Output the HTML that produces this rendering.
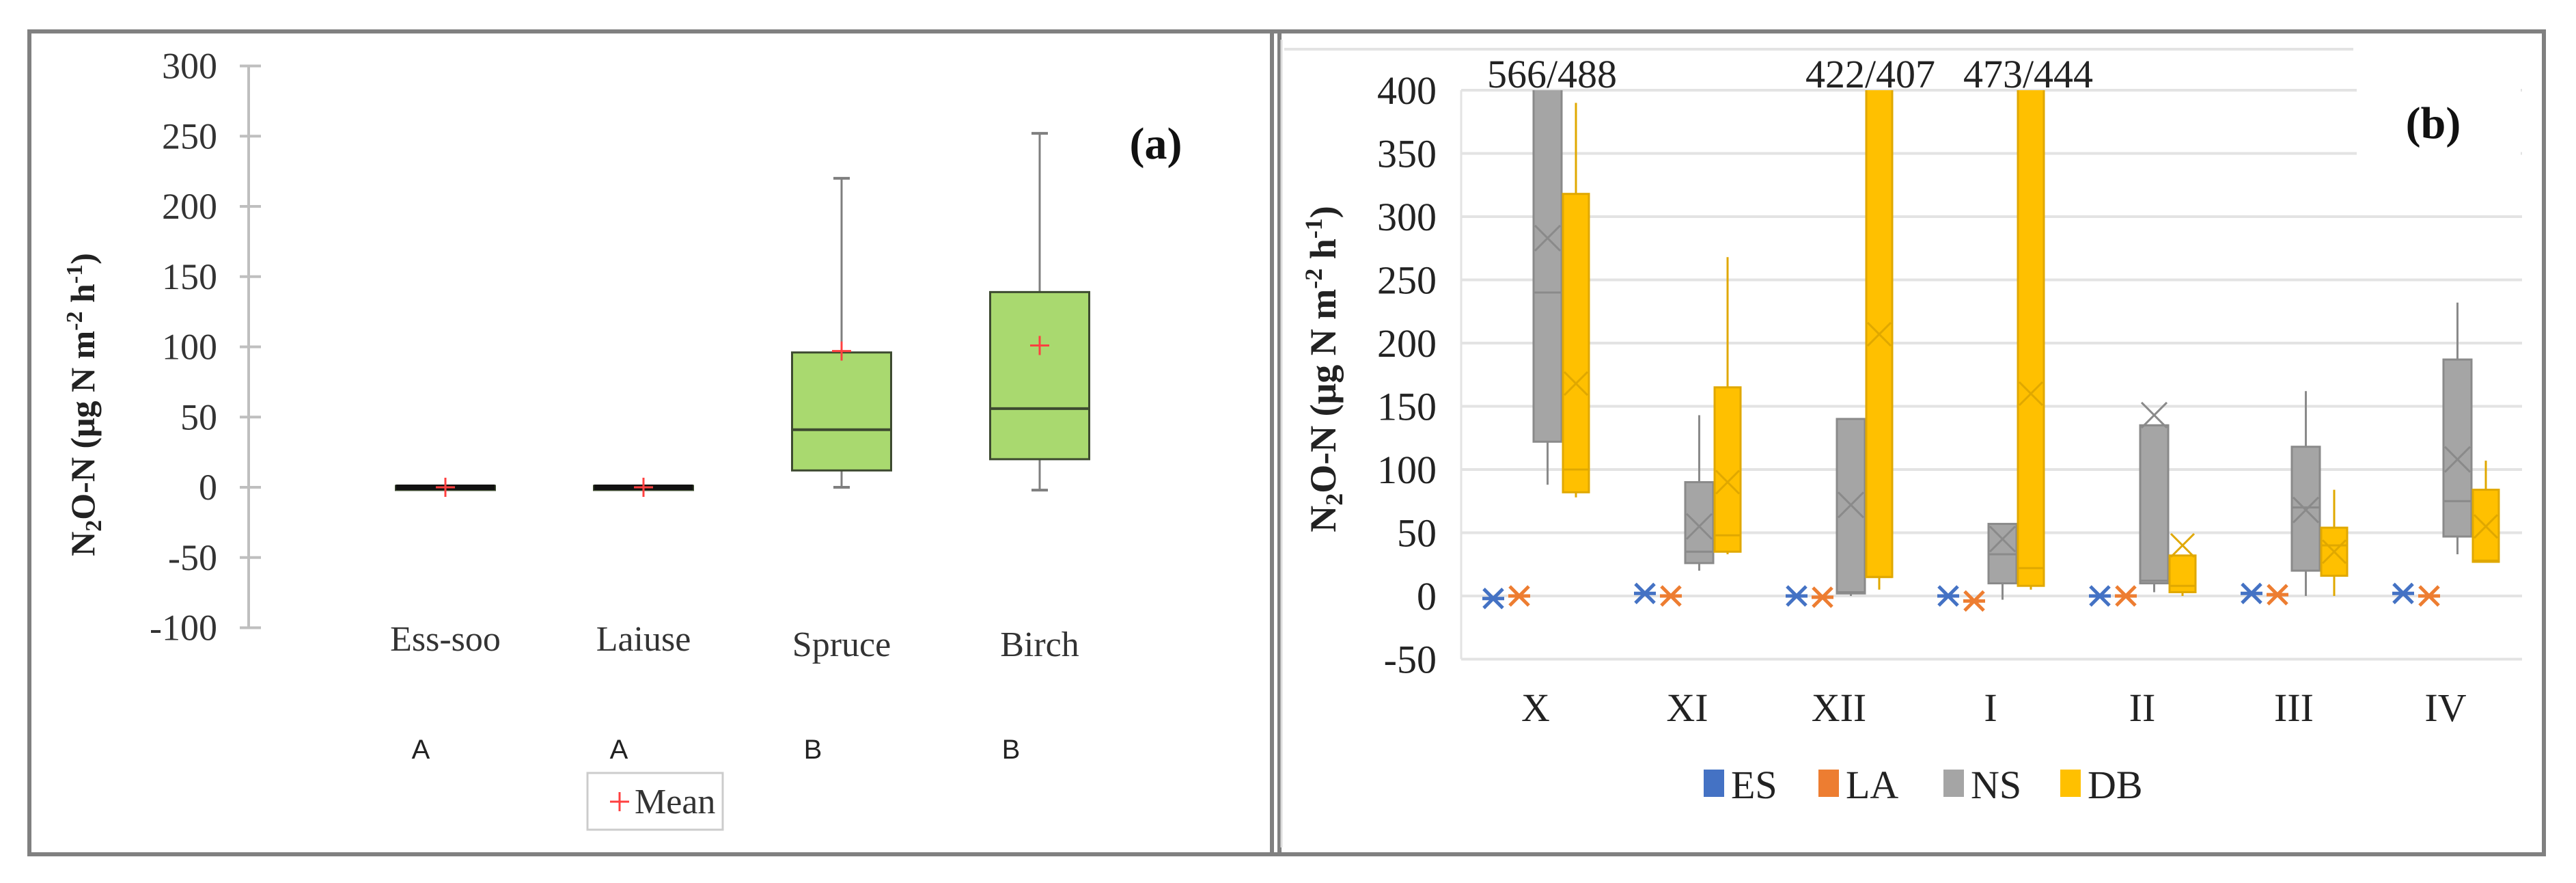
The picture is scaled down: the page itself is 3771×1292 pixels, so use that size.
<!DOCTYPE html>
<html><head><meta charset="utf-8"><style>
html,body{margin:0;padding:0;background:#fff;}
svg{display:block;font-family:"Liberation Serif",serif;}
</style></head><body>
<svg id="fig" width="3771" height="1292" viewBox="0 0 3771 1292" xmlns="http://www.w3.org/2000/svg">
<rect x="0" y="0" width="3771" height="1292" fill="#fff"/>
<rect x="43" y="46" width="1830" height="1204" fill="none" stroke="#808080" stroke-width="6"/>
<rect x="1862" y="46" width="1862" height="1204" fill="none" stroke="#808080" stroke-width="6"/>
<line x1="1876" y1="58" x2="1876" y2="1240" stroke="#ddd" stroke-width="3"/>
<g id="pa"></g>
<g id="pb"></g>
</svg>
<script>
// ---------- Panel (a) data ----------
const aCats = ["Ess-soo","Laiuse","Spruce","Birch"];
const aLetters = ["A","A","B","B"];
const aMin = [0,0,0,-2];
const aQ1 = [-1,-1,12,20];
const aMed = [0,0,41,56];
const aQ3 = [1,1,96,139];
const aMax = [0,0,220,252];
const aMean = [0,0,97,101];
const aTicks = [300,250,200,150,100,50,0,-50,-100];

// ---------- Panel (b) data ----------
const bCats = ["X","XI","XII","I","II","III","IV"];
const bTicks = [400,350,300,250,200,150,100,50,0,-50];
const esMean = [-2,2,0,0,0,2,2];
const laMean = [0,0,-1,-4,0,1,0];
const nsMin = [88,20,0,-3,3,0,33];
const nsQ1 = [122,26,2,10,10,20,47];
const nsMed = [240,35,3,33,12,70,75];
const nsQ3 = [566,90,140,57,135,118,187];
const nsMax = [566,143,140,57,135,162,232];
const nsMean = [283,55,72,45,143,68,108];
const dbMin = [78,33,5,5,0,0,27];
const dbQ1 = [82,35,15,8,3,16,27];
const dbMed = [100,48,15,22,8,40,28];
const dbQ3 = [318,165,422,473,32,54,84];
const dbMax = [390,268,422,473,32,84,107];
const dbMean = [168,90,207,160,40,35,55];
const topLabels = ["566/488","","422/407","473/444","","",""];
const legendNames = ["ES","LA","NS","DB"];

const NS="http://www.w3.org/2000/svg";
function mk(parent,tag,attrs,text){const e=document.createElementNS(NS,tag);for(const k in attrs)e.setAttribute(k,attrs[k]);if(text!==undefined)e.textContent=text;parent.appendChild(e);return e;}

// ---------- Panel (a) ----------
const pa=document.getElementById('pa');
const ya=v=>713-2.055*v;
const xa=i=>652+i*290;
mk(pa,'line',{x1:364,y1:ya(300),x2:364,y2:ya(-100),stroke:'#bfbfbf','stroke-width':4});
aTicks.forEach(t=>{
  const tk=mk(pa,'line',{x1:351,y1:ya(t),x2:382,y2:ya(t),stroke:'#bfbfbf','stroke-width':4});
  
  
  const lb=mk(pa,'text',{x:318,y:ya(t)+18,'text-anchor':'end','font-size':54,fill:'#333'},String(t));
  
  
});
const yta=mk(pa,'text',{x:0,y:0,transform:'translate(138,592) rotate(-90)','text-anchor':'middle','font-size':50,'font-weight':'bold',fill:'#222'});


yta.innerHTML='N<tspan font-size="34" dy="10">2</tspan><tspan dy="-10">O-N (μg N m</tspan><tspan font-size="34" dy="-18">-2</tspan><tspan dy="18"> h</tspan><tspan font-size="34" dy="-18">-1</tspan><tspan dy="18">)</tspan>';
aCats.forEach((c,i)=>{
  const cx=xa(i), w=145;
  const g=mk(pa,'g',{});
  
  
  mk(g,'line',{x1:cx,y1:ya(aMax[i]),x2:cx,y2:ya(aQ3[i]),stroke:'#7f7f7f','stroke-width':3});
  mk(g,'line',{x1:cx,y1:ya(aMin[i]),x2:cx,y2:ya(aQ1[i]),stroke:'#7f7f7f','stroke-width':3});
  mk(g,'line',{x1:cx-12,y1:ya(aMax[i]),x2:cx+12,y2:ya(aMax[i]),stroke:'#7f7f7f','stroke-width':4});
  mk(g,'line',{x1:cx-12,y1:ya(aMin[i]),x2:cx+12,y2:ya(aMin[i]),stroke:'#7f7f7f','stroke-width':4});
  const h=Math.max(ya(aQ1[i])-ya(aQ3[i]),6);
  mk(g,'rect',{x:cx-w/2,y:ya(aQ3[i]),width:w,height:h,fill:i<2?'#999':'#a9d96f',stroke:'#3d4a30','stroke-width':3});
  mk(g,'line',{x1:cx-w/2,y1:ya(aMed[i]),x2:cx+w/2,y2:ya(aMed[i]),stroke:i<2?'#111':'#3d4a30','stroke-width':i<2?8:4});
  mk(g,'path',{d:`M${cx-14},${ya(aMean[i])}h28M${cx},${ya(aMean[i])-14}v28`,stroke:'#ff4040','stroke-width':3});
  const cl=mk(pa,'text',{x:cx,y:(i<2?952:960),'text-anchor':'middle','font-size':52,fill:'#333'},c);
  
  
  const lt=mk(pa,'text',{x:cx-36+ (i>=2?-6:0),y:1110,'text-anchor':'middle','font-size':40,'font-family':'Liberation Sans, sans-serif',fill:'#222'},aLetters[i]);
  
  
});
const leg=mk(pa,'g',{});


mk(leg,'rect',{x:860,y:1131,width:198,height:83,fill:'#fff',stroke:'#ccc','stroke-width':3});
mk(leg,'path',{d:'M893,1173h28M907,1159v28',stroke:'#ff4040','stroke-width':3});
mk(leg,'text',{x:929,y:1190,'font-size':52,fill:'#333'},'Mean');
const la=mk(pa,'text',{x:1692,y:232,'text-anchor':'middle','font-size':66,'font-weight':'bold',fill:'#111'},'(a)');



// ---------- Panel (b) ----------
const pb=document.getElementById('pb');
const yb=v=>872-1.85*v;
const xb=i=>2248+i*222;
mk(pb,'line',{x1:1880,y1:72,x2:3445,y2:72,stroke:'#e3e3e3','stroke-width':4});
mk(pb,'line',{x1:2139,y1:yb(400),x2:2139,y2:yb(-50),stroke:'#e3e3e3','stroke-width':3});
bTicks.forEach(t=>{
  const gl=mk(pb,'line',{x1:2139,y1:yb(t),x2:3692,y2:yb(t),stroke:'#e3e3e3','stroke-width':4});
  
  
  const lb=mk(pb,'text',{x:2103,y:yb(t)+20,'text-anchor':'end','font-size':58,fill:'#222'},String(t));
  
  
});
const ytb=mk(pb,'text',{x:0,y:0,transform:'translate(1955,540) rotate(-90)','text-anchor':'middle','font-size':54,'font-weight':'bold',fill:'#222'});


ytb.innerHTML='N<tspan font-size="36" dy="10">2</tspan><tspan dy="-10">O-N (μg N m</tspan><tspan font-size="36" dy="-20">-2</tspan><tspan dy="20"> h</tspan><tspan font-size="36" dy="-20">-1</tspan><tspan dy="20">)</tspan>';
const defs=mk(pb,'defs',{});
const cp=mk(defs,'clipPath',{id:'plotclip'});
mk(cp,'rect',{x:2139,y:yb(400),width:1560,height:yb(-50)-yb(400)});
const plot=mk(pb,'g',{'clip-path':'url(#plotclip)'});
function star(g,x,y,col){
  mk(g,'path',{d:`M${x-14},${y-14}L${x+14},${y+14}M${x-14},${y+14}L${x+14},${y-14}M${x-16},${y}h32`,stroke:col,'stroke-width':5});
}
function box(g,x0,x1,mn,q1,md,q3,mx,me,fill,edge){
  const cx=(x0+x1)/2;
  mk(g,'line',{x1:cx,y1:yb(mx),x2:cx,y2:yb(mn),stroke:edge,'stroke-width':3});
  mk(g,'rect',{x:x0,y:yb(q3),width:x1-x0,height:yb(q1)-yb(q3),fill:fill,stroke:edge,'stroke-width':3});
  mk(g,'line',{x1:x0,y1:yb(md),x2:x1,y2:yb(md),stroke:edge,'stroke-width':3});
  const m=yb(me),d=(x1-x0)/2-2;
  mk(g,'path',{d:`M${cx-d},${m-d}L${cx+d},${m+d}M${cx-d},${m+d}L${cx+d},${m-d}`,stroke:edge,'stroke-width':3});
}
bCats.forEach((c,i)=>{
  const cx=xb(i);
  const g=mk(plot,'g',{});
  
  
  star(g,cx-62,yb(esMean[i]),'#4472c4');
  star(g,cx-24,yb(laMean[i]),'#ed7d31');
  box(g,cx-3,cx+38,nsMin[i],nsQ1[i],nsMed[i],nsQ3[i],nsMax[i],nsMean[i],'#a5a5a5','#8a8a8a');
  box(g,cx+40,cx+78,dbMin[i],dbQ1[i],dbMed[i],dbQ3[i],dbMax[i],dbMean[i],'#ffc000','#e0a800');
  const cl=mk(pb,'text',{x:cx,y:1055,'text-anchor':'middle','font-size':58,fill:'#222'},c);
  
  
  if(topLabels[i]){
    const tl=mk(pb,'text',{x:cx+(i==0?24:(i==2?46:55)),y:128,'text-anchor':'middle','font-size':58,fill:'#222'},topLabels[i]);
    
    
  }
});
mk(pb,'rect',{x:3450,y:100,width:240,height:150,fill:'#fff'});
const lbb=mk(pb,'text',{x:3562,y:202,'text-anchor':'middle','font-size':66,'font-weight':'bold',fill:'#111'},'(b)');


const legCols=['#4472c4','#ed7d31','#a5a5a5','#ffc000'];
const legX=[2494,2662,2845,3016];
legendNames.forEach((n,k)=>{
  const g=mk(pb,'g',{});
  
  
  mk(g,'rect',{x:legX[k],y:1126,width:30,height:40,fill:legCols[k]});
  mk(g,'text',{x:legX[k]+40,y:1168,'font-size':58,fill:'#222'},n);
});
</script>
</body></html>
